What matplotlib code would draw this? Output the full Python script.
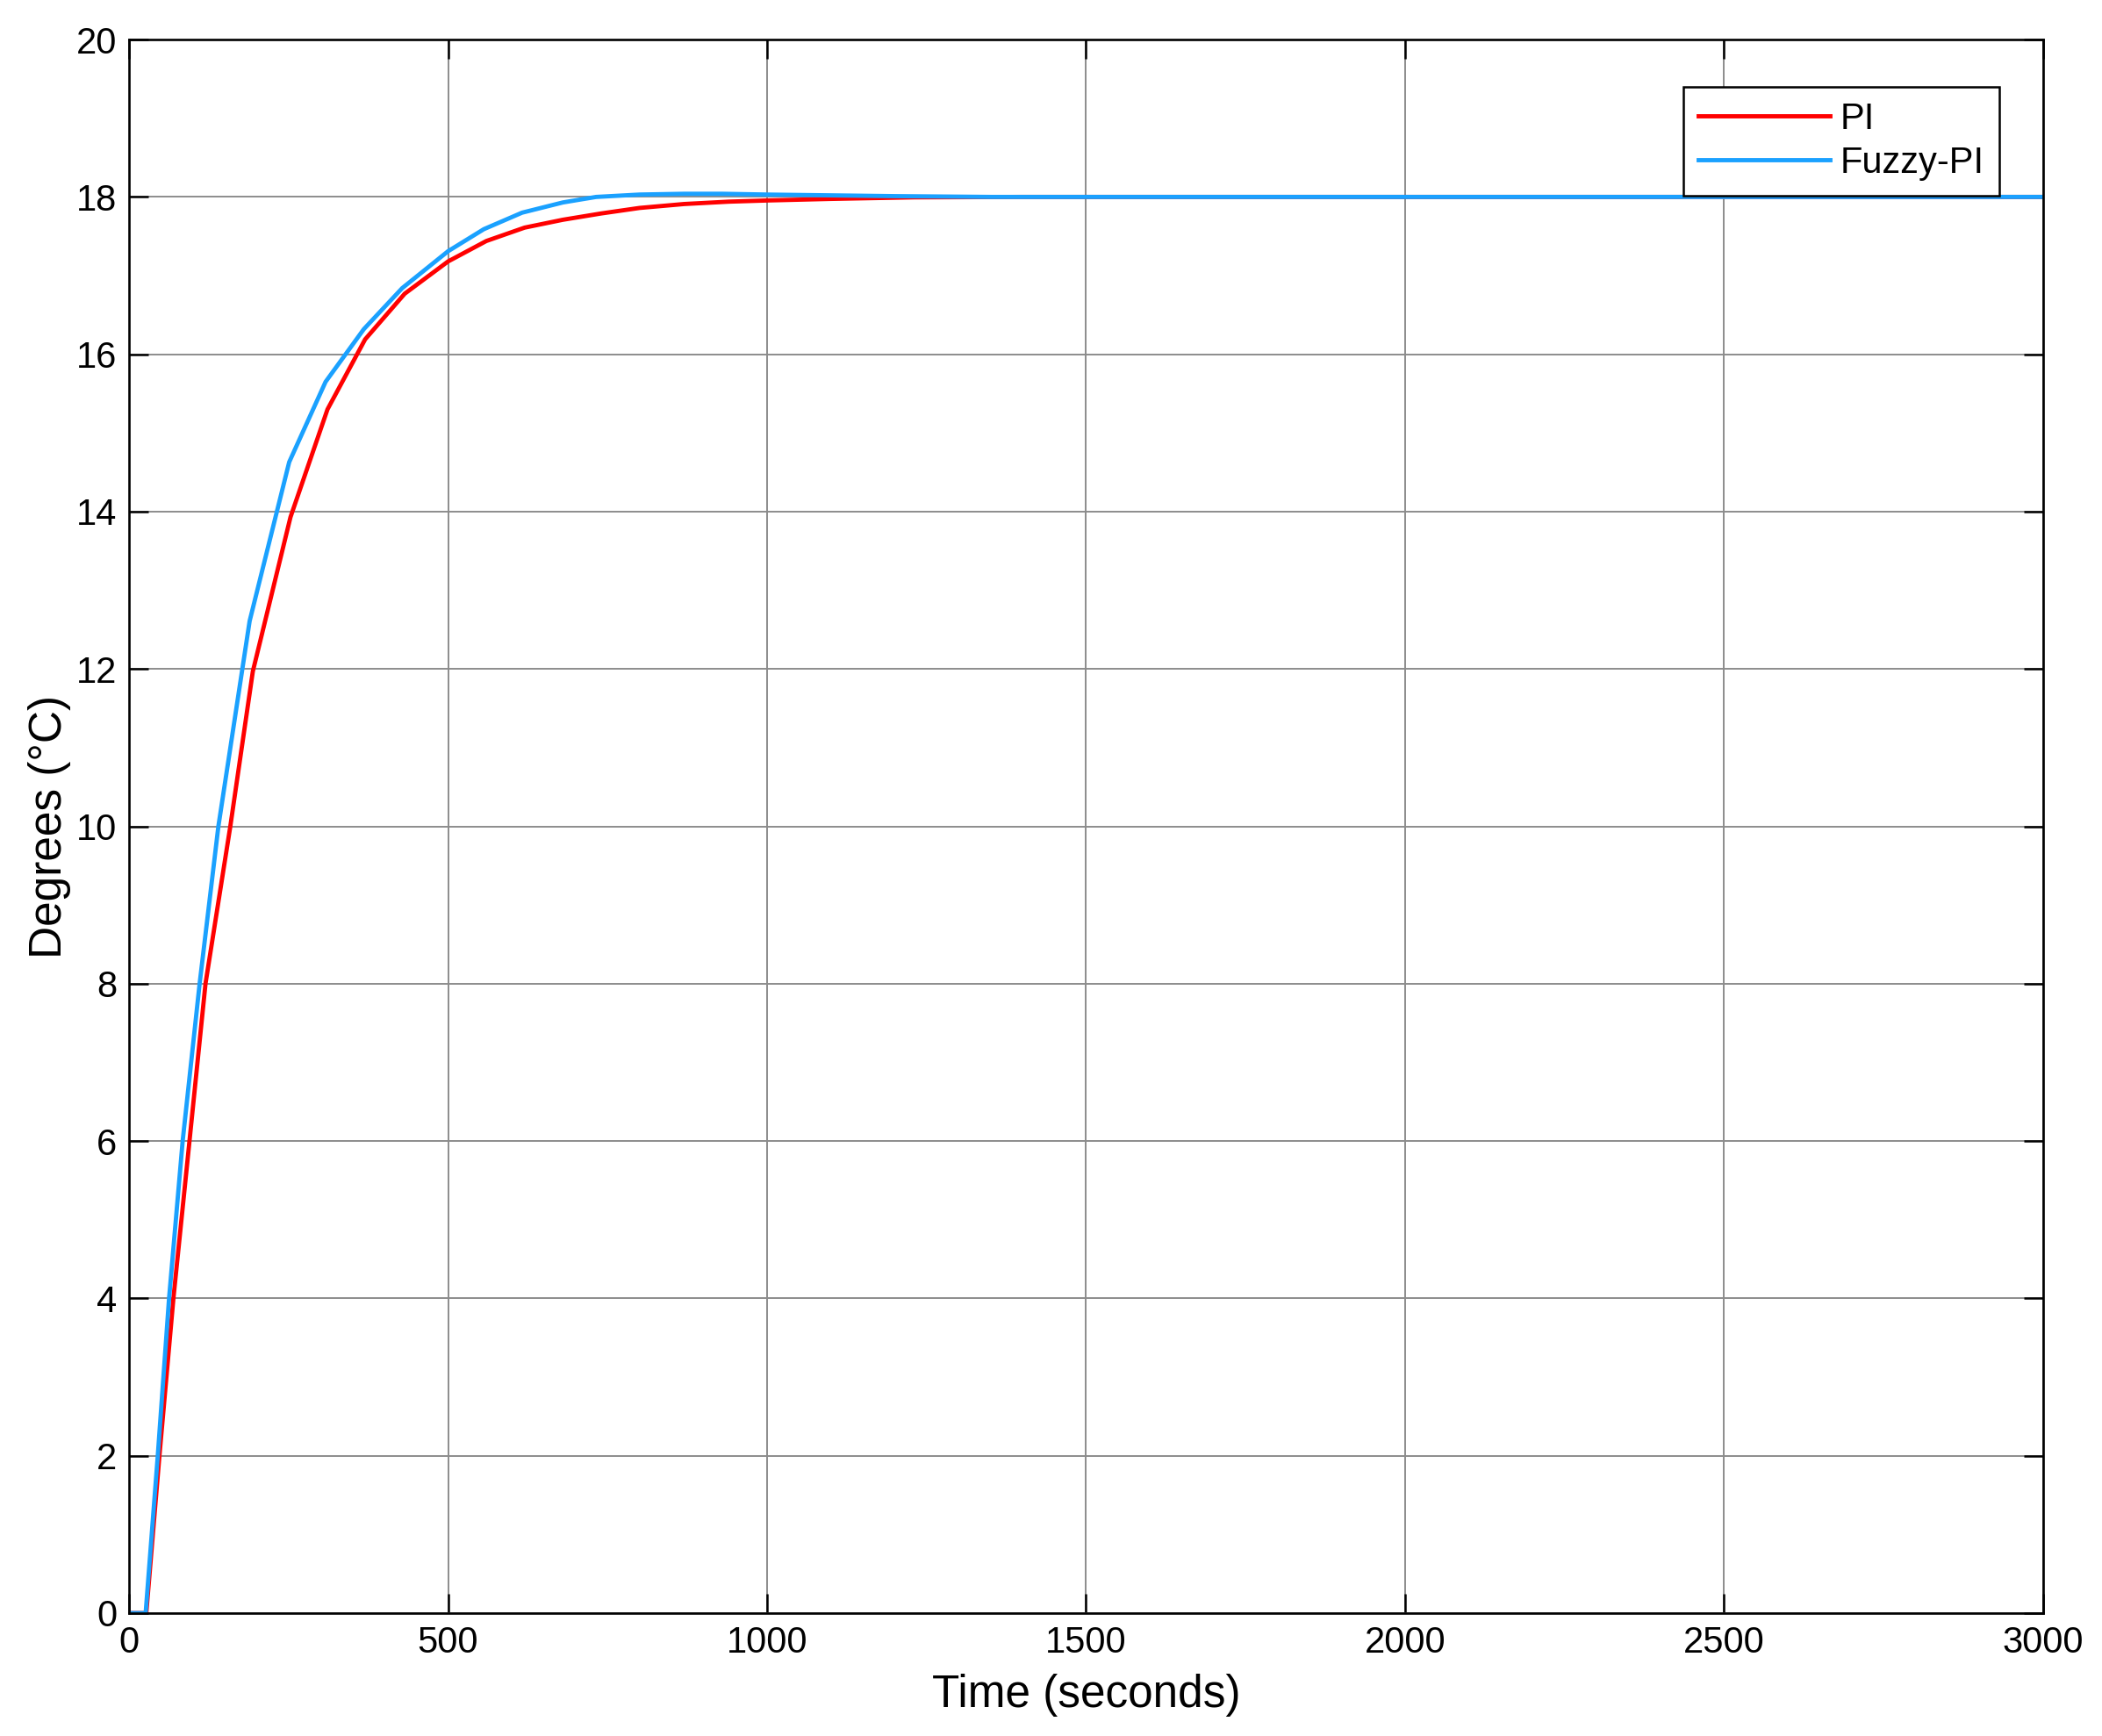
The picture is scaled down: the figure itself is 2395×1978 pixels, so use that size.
import matplotlib
matplotlib.use("Agg")
import matplotlib.pyplot as plt

plt.rcParams['font.family'] = ['Liberation Sans', 'DejaVu Sans']

# step responses
t_pi = [0, 27, 47.6, 69.5, 94.7, 119.8, 158.7, 194, 253, 311, 370, 432, 500,
        560, 620, 680, 740, 800, 870, 940, 1000, 1100, 1230, 1400, 3000]
temp_pi = [0, 0, 2, 4, 6, 8, 10, 11.97, 13.93, 15.30, 16.19, 16.77, 17.18,
           17.44, 17.61, 17.71, 17.79, 17.86, 17.91, 17.94, 17.955, 17.975,
           17.995, 18.0, 18.0]

t_fuzzy = [0, 26, 45, 62.7, 84, 110.6, 140, 189, 251, 308, 368, 428, 500,
           556, 616, 680, 732, 800, 870, 930, 1000, 1100, 1200, 1352, 1500, 3000]
temp_fuzzy = [0, 0, 2, 4, 6, 8, 10, 12.61, 14.63, 15.65, 16.32, 16.84, 17.31,
              17.59, 17.8, 17.93, 18.0, 18.03, 18.04, 18.04, 18.03, 18.02,
              18.01, 18.0, 18.0, 18.0]

x_ticks = list(range(0, 3001, 500))
y_ticks = list(range(0, 21, 2))

fig = plt.figure(figsize=(23.95, 19.78), dpi=100)
ax = fig.add_axes([0.0614, 0.0708, 0.9106, 0.9064])

ax.plot(t_pi, temp_pi, color='#ff0000', lw=3.5, label='PI')
ax.plot(t_fuzzy, temp_fuzzy, color='#1aa1ff', lw=3.5, label='Fuzzy-PI')

ax.set_xlim(0, 3000)
ax.set_ylim(0, 20)
ax.set_xticks(x_ticks)
ax.set_yticks(y_ticks)
ax.grid(True, color='#8c8c8c', lw=1.4)
ax.set_axisbelow(True)

ax.tick_params(direction='in', length=16, width=1.8, labelsize=30,
               top=True, right=True, pad=10)
for s in ax.spines.values():
    s.set_linewidth(1.9)

ax.set_xlabel('Time (seconds)', fontsize=37, va='center')
ax.xaxis.set_label_coords(0.5, -0.052)
ax.set_ylabel('Degrees (°C)', fontsize=37, va='center', ha='center')
ax.yaxis.set_label_coords(-0.0417, 0.5)

leg = ax.legend(loc='upper right', bbox_to_anchor=(0.977, 0.970),
                borderaxespad=0, fontsize=30, fancybox=False,
                edgecolor='black', framealpha=1, handlelength=3.6,
                handletextpad=0.3, borderpad=0.4, labelspacing=0.25)
leg.get_frame().set_linewidth(1.8)

fig.savefig('out.png', dpi=100)
